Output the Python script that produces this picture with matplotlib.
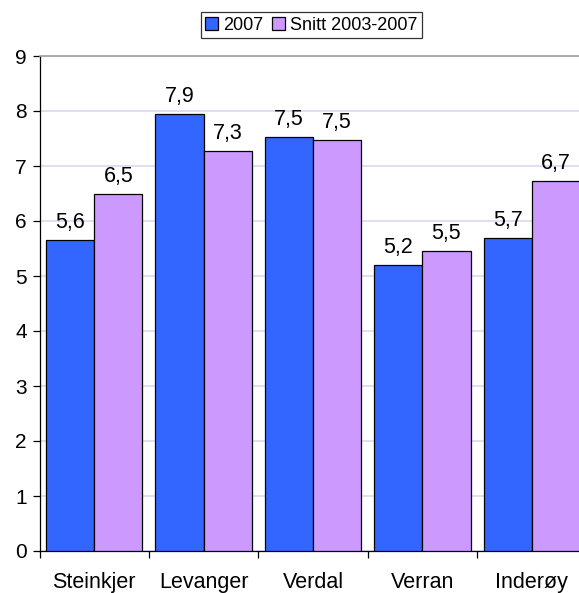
import matplotlib.pyplot as plt
import numpy as np

# data
kommuner = ["Steinkjer", "Levanger", "Verdal", "Verran", "Inderøy"]
verdi_2007 = [5.65, 7.94, 7.52, 5.20, 5.70]
verdi_snitt = [6.50, 7.28, 7.47, 5.46, 6.72]
tekst_2007 = ["5,6", "7,9", "7,5", "5,2", "5,7"]
tekst_snitt = ["6,5", "7,3", "7,5", "5,5", "6,7"]
serier = ["2007", "Snitt 2003-2007"]

BLUE = "#3366FF"
PURPLE = "#CC99FF"

plt.rcParams["font.family"] = ["Liberation Sans", "DejaVu Sans"]

fig = plt.figure(figsize=(5.79, 5.93), dpi=100)
W, H = 579, 593
left, right, top, bottom = 39.5, 586.5, 56, 551
ax = fig.add_axes([left / W, (H - bottom) / H, (right - left) / W, (bottom - top) / H])

x = np.arange(len(kommuner))
bw = 0.44
b1 = ax.bar(x - bw / 2, verdi_2007, bw, color=BLUE, edgecolor="black", linewidth=0.9,
            label=serier[0], zorder=3)
b2 = ax.bar(x + bw / 2, verdi_snitt, bw, color=PURPLE, edgecolor="black", linewidth=0.9,
            label=serier[1], zorder=3)

for bars, labels in ((b1, tekst_2007), (b2, tekst_snitt)):
    for rect, lab in zip(bars, labels):
        ax.annotate(lab, (rect.get_x() + rect.get_width() / 2, rect.get_height()),
                    xytext=(0, 5), textcoords="offset points",
                    ha="center", va="bottom", fontsize=15.5)

ax.set_xlim(-0.5, len(kommuner) - 0.5)
ax.set_ylim(0, 9)
ax.set_yticks(range(10))
ax.tick_params(axis="y", labelsize=15, length=5, width=0.9, direction="out", pad=4)

# category labels centred, tick marks on the boundaries
grenser = np.arange(-0.5, len(kommuner))
ax.set_xticks(grenser, [""] * len(grenser))
ax.set_xticks(x, kommuner, minor=True)
ax.tick_params(axis="x", which="major", length=5, width=0.9, direction="out")
ax.tick_params(axis="x", which="minor", length=0, labelsize=15.5, pad=15)

ax.grid(axis="y", color="#D8D8F4", linewidth=1.2, zorder=0)
ax.set_axisbelow(True)
ax.spines["right"].set_visible(False)
ax.spines["top"].set_color("#A0A0A0")
ax.spines["top"].set_linewidth(1.2)
ax.spines["left"].set_linewidth(0.9)
ax.spines["bottom"].set_linewidth(0.9)

leg = fig.legend(loc="center", bbox_to_anchor=(311.5 / W, 1 - 25 / H), ncol=2,
                 fontsize=13, frameon=True, fancybox=False, edgecolor="black",
                 handlelength=0.7, handleheight=0.7, handletextpad=0.3,
                 columnspacing=0.5, borderpad=0.25, borderaxespad=0)
leg.get_frame().set_linewidth(0.9)

fig.savefig("out.png", dpi=100)
